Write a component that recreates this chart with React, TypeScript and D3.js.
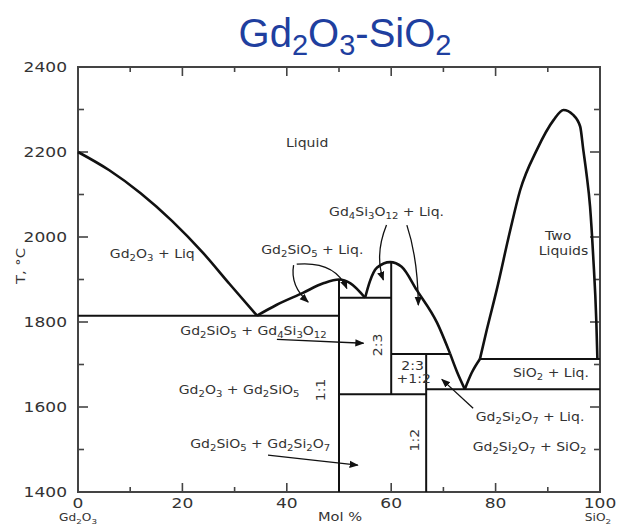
import React from "react";
import * as d3 from "d3";

// axis ticks
const xMajor = [0, 20, 40, 60, 80, 100];
const xMinor = [10, 30, 50, 70, 90];
const yMajor = [1400, 1600, 1800, 2000, 2200, 2400];
const yMinor = [1500, 1700, 1900, 2100, 2300];

// liquidus curves, [mol % SiO2, T °C]
const gd2o3Liquidus = [[0, 2200], [6, 2157], [12, 2103], [18, 2038], [24, 1962], [29, 1890], [34.3, 1815]];
const gd2sio5Liquidus = [[34.3, 1815], [38, 1840], [43, 1868], [47, 1891], [50, 1900], [52.2, 1891], [55, 1857]];
const gd4si3o12Liquidus = [[55, 1857], [55.9, 1895], [57.3, 1928], [59.8, 1941], [62, 1930], [64.9, 1875], [68.8, 1798], [71.3, 1725]];
const eutecticLeft = [[71.3, 1725], [72.6, 1683], [74.1, 1642]];
const eutecticRight = [[74.1, 1642], [75.4, 1680], [77, 1713]];
const twoLiquidDome = [[77, 1713], [78.3, 1781], [80.2, 1875], [82.8, 2016], [84.7, 2110], [87.9, 2205], [91.1, 2275], [93, 2299], [94.8, 2288], [96.2, 2260], [96.8, 2205], [97.4, 2150], [98.1, 2071], [98.7, 1954], [99.3, 1800], [99.5, 1713]];

// invariant lines and compound lines: [x1, T1, x2, T2]
const phaseLines = [
  [0, 1815, 50, 1815],
  [50, 1857, 60, 1857],
  [60, 1725, 71.3, 1725],
  [77, 1713, 100, 1713],
  [50, 1630, 66.7, 1630],
  [66.7, 1642, 100, 1642],
  [50, 1900, 50, 1400],
  [60, 1941, 60, 1630],
  [66.7, 1725, 66.7, 1400],
];

// arrows: start, control, end (data coords)
const curvedArrows = [
  [[41.3, 1934], [40.6, 1885], [44.1, 1847]],
  [[41.9, 1936], [49.2, 1944], [51.5, 1879]],
  [[59.1, 2028], [56.8, 1958], [58.5, 1899]],
  [[63, 2028], [65.1, 1950], [65.2, 1840]],
];
const straightArrows = [
  [[38.1, 1759], [54.7, 1750]],
  [[36.4, 1487], [53.6, 1463]],
  [[75.7, 1597], [69.7, 1665]],
];

// region labels: text, x, T, anchor
const regionLabels = [
  ["Liquid", 43.9, 2212, "middle"],
  ["Gd_2O_3 + Liq", 6.1, 1951, "start"],
  ["Gd_2SiO_5 + Liq.", 35.1, 1960, "start"],
  ["Gd_4Si_3O_12 + Liq.", 48.1, 2049, "start"],
  ["Two", 92.0, 1993, "middle"],
  ["Liquids", 93.0, 1958, "middle"],
  ["Gd_2SiO_5 + Gd_4Si_3O_12", 19.6, 1769, "start"],
  ["Gd_2O_3 + Gd_2SiO_5", 19.3, 1631, "start"],
  ["Gd_2SiO_5 + Gd_2Si_2O_7", 21.5, 1504, "start"],
  ["2:3", 64.1, 1687, "middle"],
  ["+1:2", 64.3, 1656, "middle"],
  ["SiO_2 + Liq.", 90.6, 1671, "middle"],
  ["Gd_2Si_2O_7 + Liq.", 76.2, 1568, "start"],
  ["Gd_2Si_2O_7 + SiO_2", 75.6, 1497, "start"],
];
const compoundLabels = [
  ["1:1", 47.4, 1640],
  ["2:3", 58.3, 1746],
  ["1:2", 65.3, 1522],
];

const W = 621;
const H = 525;
const SX = 1.22;
const FONT = "DejaVu Sans";

const x = d3.scaleLinear().domain([0, 100]).range([78, 600]);
const y = d3.scaleLinear().domain([1400, 2400]).range([492, 67]);

const line = d3
  .line<number[]>()
  .x((d) => x(d[0]))
  .y((d) => y(d[1]))
  .curve(d3.curveMonotoneX);

// "Gd_2O_3" -> tspans with subscripts
function formula(s: string, size: number) {
  const parts = s.split(/_(\d+)/);
  const out: any[] = [];
  let down = false;
  parts.forEach((p, i) => {
    if (!p) return;
    if (i % 2 === 1) {
      out.push(
        <tspan key={i} fontSize={size * 0.72} dy={down ? 0 : size * 0.26}>
          {p}
        </tspan>
      );
      down = true;
    } else {
      out.push(
        <tspan key={i} dy={down ? -size * 0.26 : 0}>
          {p}
        </tspan>
      );
      down = false;
    }
  });
  return out;
}

function Label({ px, py, text, anchor = "start", size = 12, rotate = false, fill = "#333" }: any) {
  const t = `translate(${px},${py})${rotate ? " rotate(-90)" : ""} scale(${SX},1)`;
  return (
    <text transform={t} textAnchor={anchor} fontSize={size} fontFamily={FONT} fill={fill}>
      {formula(text, size)}
    </text>
  );
}

export default function App() {
  const x0 = x(0), x1 = x(100), yb = y(1400), yt = y(2400);
  return (
    <svg width={W} height={H} style={{ position: "absolute", left: 0, top: 0, background: "#fff" }}>
      <defs>
        <marker id="ah" viewBox="0 0 10 10" refX="9" refY="5" markerWidth="7" markerHeight="7" orient="auto">
          <path d="M0,1 L10,5 L0,9 z" fill="#111" />
        </marker>
      </defs>

      {/* title */}
      <text x={345} y={47} textAnchor="middle" fontFamily="Liberation Sans, Arial" fontSize={40} fill="#1f3f9f">
        Gd<tspan fontSize={29} dy={8}>2</tspan>
        <tspan dy={-8}>O</tspan>
        <tspan fontSize={29} dy={8}>3</tspan>
        <tspan dy={-8}>-SiO</tspan>
        <tspan fontSize={29} dy={8}>2</tspan>
      </text>

      {/* frame */}
      <rect x={x0} y={yt} width={x1 - x0} height={yb - yt} fill="none" stroke="#444" strokeWidth={2} />

      {/* ticks */}
      <g stroke="#444" strokeWidth={1.6}>
        {xMajor.map((v) => (
          <g key={"xm" + v}>
            <line x1={x(v)} x2={x(v)} y1={yb} y2={yb - 9} />
            <line x1={x(v)} x2={x(v)} y1={yt} y2={yt + 9} />
          </g>
        ))}
        {xMinor.map((v) => (
          <g key={"xn" + v}>
            <line x1={x(v)} x2={x(v)} y1={yb} y2={yb - 5} />
            <line x1={x(v)} x2={x(v)} y1={yt} y2={yt + 5} />
          </g>
        ))}
        {yMajor.map((v) => (
          <g key={"ym" + v}>
            <line x1={x0} x2={x0 + 10} y1={y(v)} y2={y(v)} />
            <line x1={x1} x2={x1 - 10} y1={y(v)} y2={y(v)} />
          </g>
        ))}
        {yMinor.map((v) => (
          <g key={"yn" + v}>
            <line x1={x0} x2={x0 + 6} y1={y(v)} y2={y(v)} />
            <line x1={x1} x2={x1 - 6} y1={y(v)} y2={y(v)} />
          </g>
        ))}
      </g>

      {/* tick labels */}
      {yMajor.map((v) => (
        <Label key={"yl" + v} px={67} py={y(v) + 5} text={String(v)} anchor="end" size={14} />
      ))}
      {xMajor.map((v) => (
        <Label key={"xl" + v} px={x(v)} py={508} text={String(v)} anchor="middle" size={14} />
      ))}
      <Label px={x(0)} py={521} text="Gd_2O_3" anchor="middle" size={10} />
      <Label px={340} py={521} text="Mol %" anchor="middle" size={12} />
      <Label px={x(100) - 2} py={521} text="SiO_2" anchor="middle" size={10} />
      <Label px={25} py={266} text="T, °C" anchor="middle" size={12} rotate />

      {/* phase lines */}
      <g stroke="#111" strokeWidth={2} fill="none">
        {phaseLines.map((l, i) => (
          <line key={i} x1={x(l[0])} y1={y(l[1])} x2={x(l[2])} y2={y(l[3])} />
        ))}
      </g>

      {/* liquidus */}
      <g stroke="#111" strokeWidth={2.6} fill="none" strokeLinejoin="round">
        {[gd2o3Liquidus, gd2sio5Liquidus, gd4si3o12Liquidus, eutecticLeft, eutecticRight, twoLiquidDome].map((c, i) => (
          <path key={i} d={line(c) || ""} />
        ))}
      </g>

      {/* arrows */}
      <g stroke="#111" strokeWidth={1.3} fill="none">
        {curvedArrows.map((a, i) => (
          <path
            key={"c" + i}
            d={`M${x(a[0][0])},${y(a[0][1])} Q${x(a[1][0])},${y(a[1][1])} ${x(a[2][0])},${y(a[2][1])}`}
            markerEnd="url(#ah)"
          />
        ))}
        {straightArrows.map((a, i) => (
          <line key={"s" + i} x1={x(a[0][0])} y1={y(a[0][1])} x2={x(a[1][0])} y2={y(a[1][1])} markerEnd="url(#ah)" />
        ))}
      </g>

      {/* labels */}
      {regionLabels.map((l, i) => (
        <Label key={"r" + i} px={x(l[1] as number)} py={y(l[2] as number)} text={l[0]} anchor={l[3]} size={11.5} />
      ))}
      {compoundLabels.map((l, i) => (
        <Label key={"k" + i} px={x(l[1] as number)} py={y(l[2] as number)} text={l[0]} anchor="middle" size={11.5} rotate />
      ))}
    </svg>
  );
}
